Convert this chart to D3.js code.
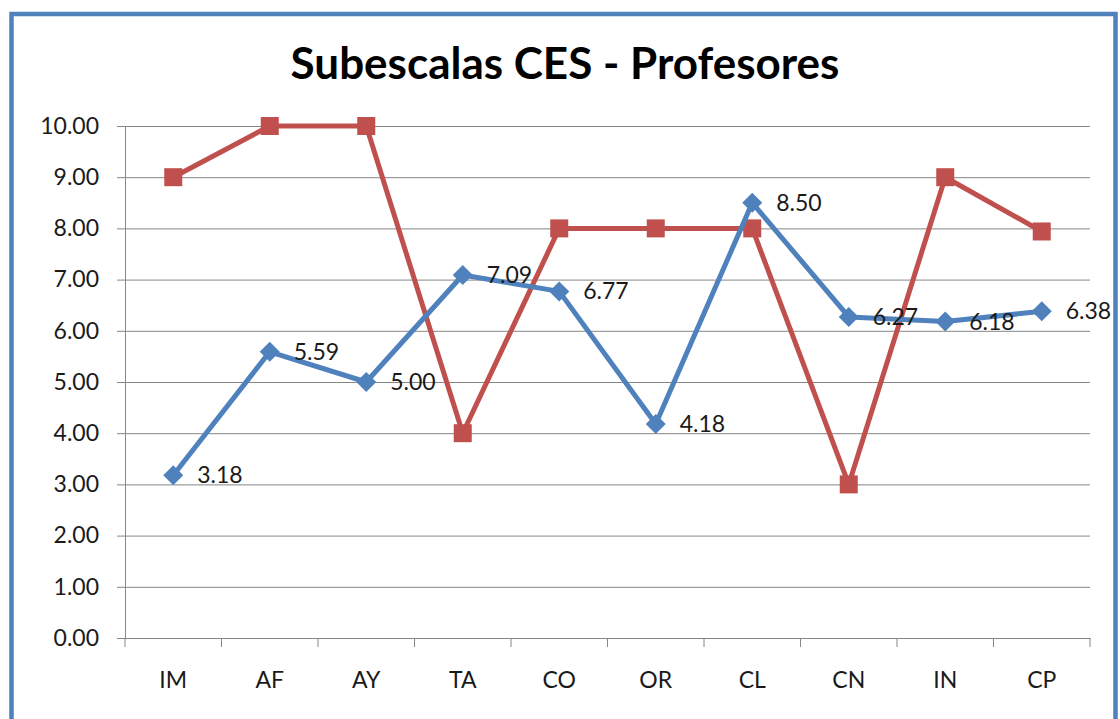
<!DOCTYPE html>
<html>
<head>
<meta charset="utf-8">
<script src="https://cdn.jsdelivr.net/npm/d3@7"></script>
<style>
  body { margin: 0; background: white; }
  text { font-family: Lato, "Open Sans", sans-serif; fill: #1a1a1a; }
</style>
</head>
<body>
<div id="chart"></div>
<script>
const categories = ["IM", "AF", "AY", "TA", "CO", "OR", "CL", "CN", "IN", "CP"];
const blueValues = [3.18, 5.59, 5.0, 7.09, 6.77, 4.18, 8.5, 6.27, 6.18, 6.38];
const redValues = [9, 10, 10, 4, 8, 8, 8, 3, 9, 7.94];
const yTicks = [0, 1, 2, 3, 4, 5, 6, 7, 8, 9, 10];
const title = "Subescalas CES - Profesores";

const blue = "#4F81BD";
const red = "#C0504D";
const grey = "#868686";

const width = 1120;
const height = 719;
const margin = { top: 126, bottom: 81, left: 125, right: 30 };

const svg = d3
  .select("#chart")
  .append("svg")
  .attr("width", width)
  .attr("height", height);

// outer frame
svg
  .append("rect")
  .attr("x", 11.5)
  .attr("y", 14)
  .attr("width", 1104)
  .attr("height", 730)
  .attr("fill", "white")
  .attr("stroke", blue)
  .attr("stroke-width", 4.5);

svg
  .append("text")
  .attr("x", 565)
  .attr("y", 79)
  .attr("text-anchor", "middle")
  .attr("font-size", 44)
  .attr("font-weight", "bold")
  .style("fill", "#000")
  .text(title);

const x = d3
  .scaleBand()
  .domain(categories)
  .range([margin.left, width - margin.right]);

const y = d3
  .scaleLinear()
  .domain([0, 10])
  .range([height - margin.bottom, margin.top]);

// gridlines + y axis
function yAxis(g) {
  g.attr("transform", `translate(${margin.left}, 0)`)
    .call(
      d3
        .axisLeft(y)
        .tickValues(yTicks)
        .tickFormat(d3.format(".2f"))
        .tickSize(8)
        .tickPadding(18)
    )
    .call((g) => g.select(".domain").attr("stroke", grey))
    .call((g) =>
      g
        .selectAll(".tick line")
        .attr("stroke", grey)
        .attr("x2", width - margin.right - margin.left)
        .attr("x1", -8)
    )
    .call((g) =>
      g.selectAll(".tick text").attr("font-size", 23).attr("fill", "#1a1a1a")
    );
}

function xAxis(g) {
  g.attr("transform", `translate(0, ${height - margin.bottom})`)
    .call(d3.axisBottom(x).tickSize(0).tickPadding(34))
    .call((g) => g.select(".domain").attr("stroke", grey))
    .call((g) =>
      g.selectAll(".tick text").attr("font-size", 23).attr("fill", "#1a1a1a")
    );
  // tick marks between categories
  g.selectAll(".sep")
    .data(d3.range(categories.length + 1))
    .join("line")
    .attr("class", "sep")
    .attr("x1", (i) => margin.left + i * x.step())
    .attr("x2", (i) => margin.left + i * x.step())
    .attr("y1", 0)
    .attr("y2", 9)
    .attr("stroke", grey);
}

svg.append("g").call(yAxis);
svg.append("g").call(xAxis);

const cx = (d, i) => x(categories[i]) + x.bandwidth() / 2;

const line = d3
  .line()
  .x((d, i) => cx(d, i))
  .y((d) => y(d));

// red series
svg
  .append("path")
  .datum(redValues)
  .attr("d", line)
  .attr("fill", "none")
  .attr("stroke", red)
  .attr("stroke-width", 5)
  .attr("stroke-linejoin", "round");

svg
  .append("g")
  .selectAll("rect")
  .data(redValues)
  .join("rect")
  .attr("x", (d, i) => cx(d, i) - 9)
  .attr("y", (d) => y(d) - 9)
  .attr("width", 18)
  .attr("height", 18)
  .attr("fill", red);

// blue series
svg
  .append("path")
  .datum(blueValues)
  .attr("d", line)
  .attr("fill", "none")
  .attr("stroke", blue)
  .attr("stroke-width", 5)
  .attr("stroke-linejoin", "round");

svg
  .append("g")
  .selectAll("path")
  .data(blueValues)
  .join("path")
  .attr("d", "M0,-10L10,0L0,10L-10,0Z")
  .attr("transform", (d, i) => `translate(${cx(d, i)},${y(d)})`)
  .attr("fill", blue);

svg
  .append("g")
  .selectAll("text")
  .data(blueValues)
  .join("text")
  .attr("x", (d, i) => cx(d, i) + 24)
  .attr("y", (d) => y(d) + 8)
  .attr("font-size", 23)
  .text((d) => d3.format(".2f")(d));
</script>
</body>
</html>
